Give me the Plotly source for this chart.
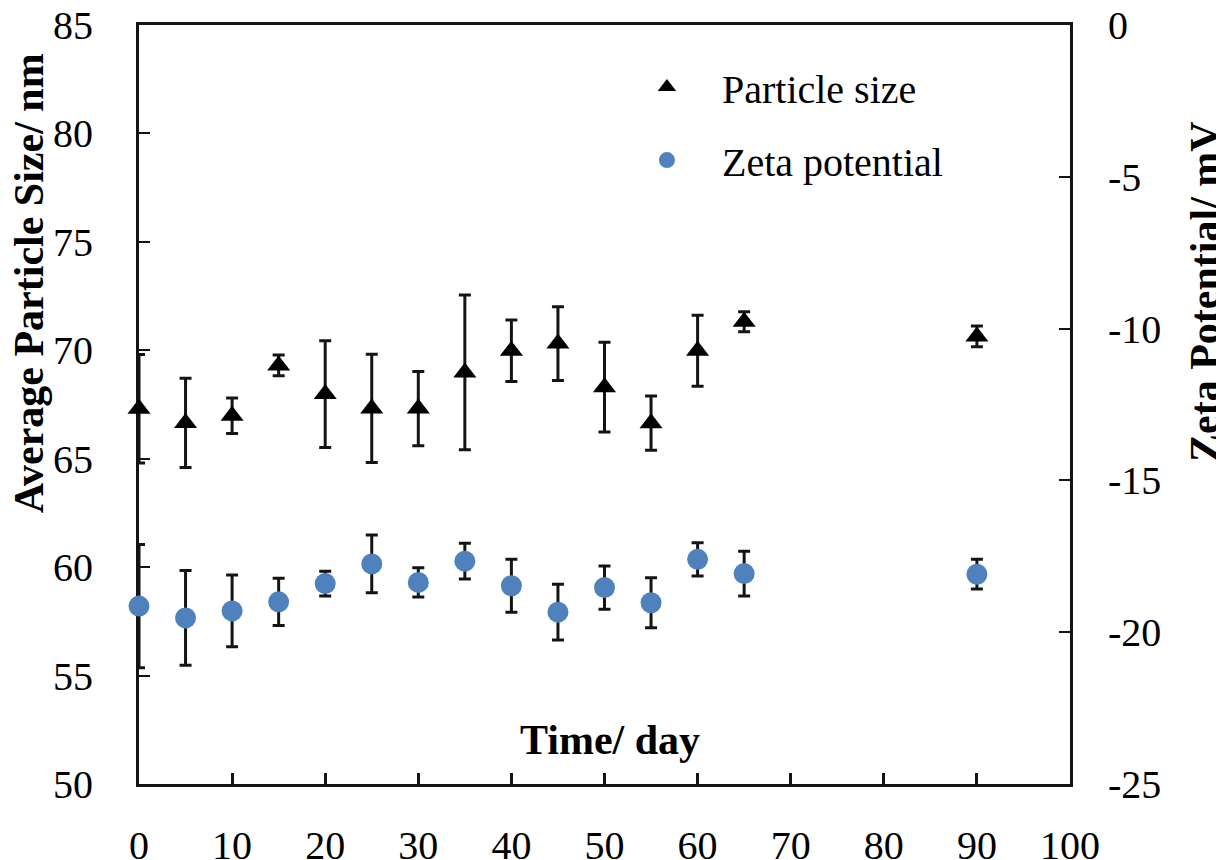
import plotly.graph_objects as go

# Data
days = [0, 5, 10, 15, 20, 25, 30, 35, 40, 45, 50, 55, 60, 65, 90]
particle_size = [67.3, 66.65, 66.98, 69.3, 67.98, 67.32, 67.31, 68.98, 69.98, 70.31, 68.3, 66.64, 69.98, 71.32, 70.64]
particle_err = [2.5, 2.06, 0.82, 0.48, 2.46, 2.5, 1.71, 3.57, 1.42, 1.70, 2.07, 1.25, 1.64, 0.46, 0.48]
zeta = [-19.14, -19.53, -19.30, -19.0, -18.40, -17.75, -18.36, -17.66, -18.47, -19.34, -18.53, -19.03, -17.60, -18.07, -18.09]
zeta_err = [2.03, 1.56, 1.18, 0.78, 0.41, 0.95, 0.48, 0.59, 0.87, 0.92, 0.71, 0.82, 0.55, 0.74, 0.49]

x_ticks = [0, 10, 20, 30, 40, 50, 60, 70, 80, 90, 100]
y_ticks = [50, 55, 60, 65, 70, 75, 80, 85]
y2_ticks = [-25, -20, -15, -10, -5, 0]
y2_ticktext = ["-25", "-20", "-15", "-10", "-5", "0"]

FONT = "Liberation Serif, Times New Roman, serif"
INK = "#141410"
BLUE = "#4F81BD"

fig = go.Figure()
fig.add_trace(go.Scatter(
    x=days, y=particle_size, mode="markers", name="Particle size",
    legendgroup="a",
    marker=dict(symbol="triangle-up", size=20, color="#000000"),
    error_y=dict(type="data", array=particle_err, visible=True,
                 color=INK, thickness=3, width=6),
    cliponaxis=False,
))
fig.add_trace(go.Scatter(
    x=days, y=zeta, mode="markers", name="Zeta potential", yaxis="y2",
    legendgroup="b",
    marker=dict(symbol="circle", size=21, color=BLUE),
    error_y=dict(type="data", array=zeta_err, visible=True,
                 color=INK, thickness=3, width=6),
    cliponaxis=False,
))

axis_common = dict(showgrid=False, zeroline=False, showline=True,
                   linecolor=INK, linewidth=3, ticks="inside", ticklen=11,
                   tickcolor=INK, automargin=False, ticklabeloverflow="allow",
                   tickfont=dict(family=FONT, size=40, color="#000"))

fig.update_layout(
    width=1216, height=852,
    margin=dict(l=131, r=154, t=17, b=76, pad=0),
    paper_bgcolor="white", plot_bgcolor="white",
    font=dict(family=FONT, color="#000"),
    showlegend=True,
    legend=dict(x=0.508, y=0.961, xanchor="left", yanchor="top",
                bgcolor="rgba(0,0,0,0)", font=dict(family=FONT, size=40),
                itemwidth=100, tracegroupgap=18),
    xaxis=dict(range=[0, 100], tickvals=x_ticks, mirror=True,
               tickwidth=3, ticklabelstandoff=24, layer="below traces",
               **axis_common),
    yaxis=dict(range=[50, 85], tickvals=y_ticks, tickwidth=2,
               ticklabelstandoff=35, layer="below traces", **axis_common),
    yaxis2=dict(range=[-25, 0], tickvals=y2_ticks, ticktext=y2_ticktext,
                overlaying="y", side="right",
                tickwidth=2, ticklabelstandoff=27, layer="below traces",
                **axis_common),
    annotations=[
        dict(text="<b>Time/ day</b>", xref="paper", yref="paper",
             x=0.506, y=0.058, xanchor="center", yanchor="middle",
             showarrow=False, font=dict(family=FONT, size=42, color="#000")),
        dict(text="<b>Average Particle Size/ nm</b>", xref="paper", yref="paper",
             x=-0.118, y=0.660, xanchor="center", yanchor="middle", textangle=-90,
             showarrow=False, font=dict(family=FONT, size=42, color="#000")),
        dict(text="<b>Zeta Potential/ mV</b>", xref="paper", yref="paper",
             x=1.145, y=0.6496, xanchor="center", yanchor="middle", textangle=-90,
             showarrow=False, font=dict(family=FONT, size=42, color="#000")),
    ],
)

fig.write_html("out.html")
